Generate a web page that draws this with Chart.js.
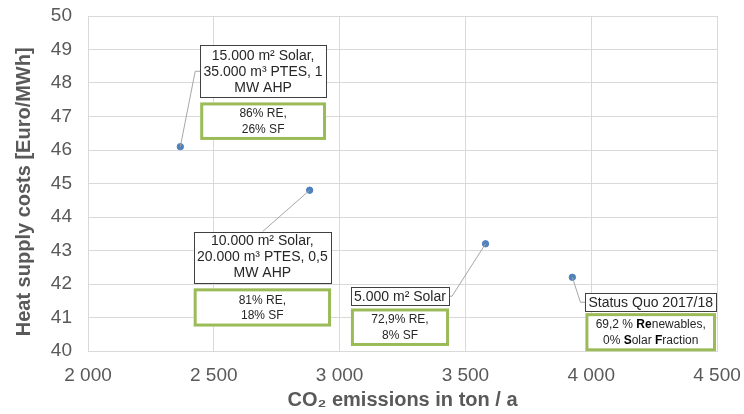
<!DOCTYPE html>
<html>
<head>
<meta charset="utf-8">
<script src="https://cdn.jsdelivr.net/npm/chart.js@4/dist/chart.umd.min.js"></script>
<style>
  html, body { margin: 0; padding: 0; background: #ffffff; }
  #wrap { width: 744px; height: 414px; }
</style>
</head>
<body>
<div id="wrap"><canvas id="c" width="744" height="414"></canvas></div>
<script>
// ---- data ----
const scenarioNames = ["15.000 m² Solar", "10.000 m² Solar", "5.000 m² Solar", "Status Quo 2017/18"];
const co2Emissions = [2367, 2881, 3580, 3925];      // ton / a
const heatCosts = [46.1, 44.8, 43.2, 42.2];         // Euro/MWh
const xTicks = [2000, 2500, 3000, 3500, 4000, 4500];
const yTicks = [40, 41, 42, 43, 44, 45, 46, 47, 48, 49, 50];

// annotation texts
const descLabels = [
  ["15.000 m² Solar,", "35.000 m³ PTES, 1", "MW AHP"],
  ["10.000 m² Solar,", "20.000 m³ PTES, 0,5", "MW AHP"],
  ["5.000 m² Solar"],
  ["Status Quo 2017/18"]
];
// rich text: arrays of [text, bold]
const shareLabels = [
  [[["86% RE,", false]], [["26% SF", false]]],
  [[["81% RE,", false]], [["18% SF", false]]],
  [[["72,9% RE,", false]], [["8% SF", false]]],
  [[["69,2 % ", false], ["Re", true], ["newables,", false]],
   [["0% ", false], ["S", true], ["olar ", false], ["F", true], ["raction", false]]]
];

// annotation layout (in axis units) — box extents and leader side
const boxLayout = [
  { x0: 2446, x1: 2946, dTop: 49.13, dBot: 47.57, gTop: 47.42, gBot: 46.30, side: "left" },
  { x0: 2420, x1: 2966, dTop: 43.56, dBot: 42.05, gTop: 41.87, gBot: 40.73, side: "top" },
  { x0: 3045, x1: 3435, dTop: 41.90, dBot: 41.37, gTop: 41.27, gBot: 40.15, side: "right" },
  { x0: 3977, x1: 4496, dTop: 41.72, dBot: 41.19, gTop: 41.13, gBot: 39.99, side: "left" }
];

const FONT = "'Liberation Sans', Arial, sans-serif";
const GREY = "#595959";

const annotationPlugin = {
  id: "boxes",
  afterDatasetsDraw(chart) {
    const ctx = chart.ctx;
    const xs = chart.scales.x, ys = chart.scales.y;
    const meta = chart.getDatasetMeta(0);
    ctx.save();
    boxLayout.forEach((b, i) => {
      const L = xs.getPixelForValue(b.x0), R = xs.getPixelForValue(b.x1);
      const T = ys.getPixelForValue(b.dTop), B = ys.getPixelForValue(b.dBot);
      const gT = ys.getPixelForValue(b.gTop), gB = ys.getPixelForValue(b.gBot);
      const pt = meta.data[i];
      // leader line
      ctx.strokeStyle = "#a6a6a6";
      ctx.lineWidth = 1;
      ctx.beginPath();
      ctx.moveTo(pt.x, pt.y);
      const midY = (T + B) / 2;
      if (b.side === "left") {
        ctx.lineTo(L - 5, midY);
        ctx.lineTo(L, midY);
      } else if (b.side === "right") {
        ctx.lineTo(R + 3, midY);
        ctx.lineTo(R, midY);
      } else {
        ctx.lineTo((L + R) / 2, T);
      }
      ctx.stroke();
      // description box
      ctx.fillStyle = "#ffffff";
      ctx.fillRect(L, T, R - L, B - T);
      ctx.strokeStyle = "#404040";
      ctx.lineWidth = 1;
      ctx.strokeRect(Math.round(L) + 0.5, Math.round(T) + 0.5, Math.round(R - L), Math.round(B - T));
      ctx.fillStyle = "#262626";
      ctx.font = "14px " + FONT;
      ctx.textAlign = "center";
      ctx.textBaseline = "middle";
      const lines = descLabels[i];
      const lh = 16;
      const cy = (T + B) / 2;
      lines.forEach((ln, k) => {
        ctx.fillText(ln, (L + R) / 2, cy + (k - (lines.length - 1) / 2) * lh + 0.5);
      });
      // share box (green)
      ctx.fillStyle = "#ffffff";
      ctx.fillRect(L, gT, R - L, gB - gT);
      ctx.strokeStyle = "#9bbb59";
      ctx.lineWidth = 3;
      ctx.strokeRect(L + 1.5, gT + 1.5, R - L - 3, gB - gT - 3);
      const sl = shareLabels[i];
      const gcy = (gT + gB) / 2;
      const glh = 15.5;
      ctx.textAlign = "left";
      sl.forEach((parts, k) => {
        let total = 0;
        parts.forEach(([t, bold]) => {
          ctx.font = (bold ? "bold " : "") + "12px " + FONT;
          total += ctx.measureText(t).width;
        });
        let x = (L + R) / 2 - total / 2;
        const y = gcy + (k - (sl.length - 1) / 2) * glh + 0.5;
        parts.forEach(([t, bold]) => {
          ctx.font = (bold ? "bold " : "") + "12px " + FONT;
          ctx.fillStyle = bold ? "#000000" : "#262626";
          ctx.fillText(t, x, y);
          x += ctx.measureText(t).width;
        });
      });
    });
    ctx.restore();
  }
};

const fmt = v => {
  const s = String(Math.round(v));
  return s.replace(/\B(?=(\d{3})+(?!\d))/g, " ");
};

new Chart(document.getElementById("c"), {
  type: "scatter",
  data: {
    datasets: [{
      label: "Scenarios",
      data: co2Emissions.map((x, i) => ({ x: x, y: heatCosts[i], name: scenarioNames[i] })),
      backgroundColor: "#4f81bd",
      borderColor: "#4f81bd",
      pointRadius: 3.2,
      pointHoverRadius: 3.2
    }]
  },
  options: {
    responsive: false,
    animation: false,
    devicePixelRatio: 1,
    layout: { padding: { top: 16, right: 27, left: 0, bottom: 0 } },
    plugins: { legend: { display: false }, tooltip: { enabled: false } },
    scales: {
      x: {
        type: "linear",
        min: xTicks[0], max: xTicks[xTicks.length - 1],
        afterBuildTicks: s => { s.ticks = xTicks.map(v => ({ value: v })); },
        afterFit: s => { s.height = 63; s.paddingLeft = 0; s.paddingRight = 0; s.paddingTop = 0; s.paddingBottom = 0; },
        grid: { color: "#d9d9d9", drawTicks: false },
        border: { color: "#d9d9d9" },
        ticks: { color: GREY, font: { family: FONT, size: 19 }, padding: 13, callback: v => fmt(v), maxRotation: 0 },
        title: { display: true, text: "CO₂ emissions in ton / a", color: GREY,
                 font: { family: FONT, size: 20, weight: "bold" }, padding: { top: 0, bottom: 2 } }
      },
      y: {
        type: "linear",
        min: yTicks[0], max: yTicks[yTicks.length - 1],
        afterBuildTicks: s => { s.ticks = yTicks.map(v => ({ value: v })); },
        afterFit: s => { s.width = 88; s.paddingLeft = 0; s.paddingRight = 0; s.paddingTop = 0; s.paddingBottom = 0; },
        grid: { color: "#d9d9d9", drawTicks: false },
        border: { color: "#d9d9d9" },
        ticks: { color: GREY, font: { family: FONT, size: 19 }, padding: 16 },
        title: { display: true, text: "Heat supply costs [Euro/MWh]   ", color: GREY,
                 font: { family: FONT, size: 20, weight: "bold" }, padding: { top: 12, bottom: 0 } }
      }
    }
  },
  plugins: [annotationPlugin]
});
</script>
</body>
</html>
